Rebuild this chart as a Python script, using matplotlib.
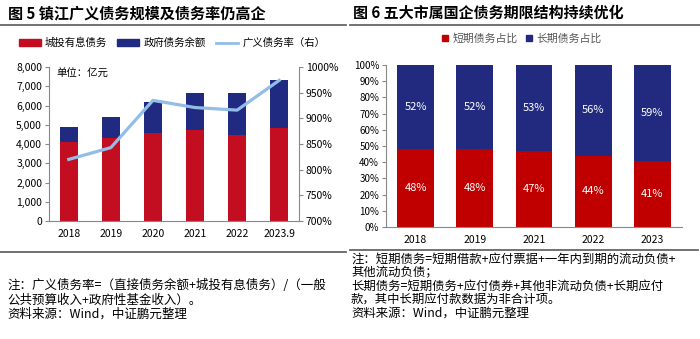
import matplotlib
import matplotlib.pyplot as plt
import numpy as np
from matplotlib.lines import Line2D
from matplotlib.patches import Patch
from matplotlib.ticker import FuncFormatter

matplotlib.use("Agg")

plt.rcParams["font.family"] = ["Noto Sans CJK SC", "DejaVu Sans"]

# 图5：镇江广义债务
years_zj = ["2018", "2019", "2020", "2021", "2022", "2023.9"]
chengtou_debt = [4120, 4300, 4570, 4730, 4470, 4830]
gov_debt = [750, 1090, 1590, 1930, 2190, 2470]
broad_ratio = [820, 843, 935, 921, 916, 974]

# 图6：五大市属国企债务期限结构
years_soe = ["2018", "2019", "2021", "2022", "2023"]
short_share = [48, 48, 47, 44, 41]
long_share = [52, 52, 53, 56, 59]

RED_L = "#C20E20"
NAVY_L = "#1F2A80"
LINE_C = "#93BDE8"
RED_R = "#C00000"
NAVY_R = "#212A7E"
GRAY = "#888888"

fig = plt.figure(figsize=(7, 3.39), dpi=100)


def fx(px):
    return px / 700


def fy(py):
    return 1 - py / 339


# titles, rules and notes
fig.text(fx(8), fy(13), "图 5 镇江广义债务规模及债务率仍高企", fontsize=10.9,
         fontweight="bold", va="center", ha="left")
fig.text(fx(353), fy(13), "图 6 五大市属国企债务期限结构持续优化", fontsize=10.8,
         fontweight="bold", va="center", ha="left")
for x0, x1 in [(0, 346), (350, 700)]:
    fig.add_artist(Line2D([fx(x0), fx(x1)], [fy(25), fy(25)], color="#666666", lw=1.3))
fig.add_artist(Line2D([fx(0), fx(346)], [fy(252), fy(252)], color="#666666", lw=1.3))
fig.add_artist(Line2D([fx(350), fx(698)], [fy(250), fy(250)], color="#666666", lw=1.3))

notes_left = ["注：广义债务率=（直接债务余额+城投有息债务）/（一般",
              "公共预算收入+政府性基金收入）。",
              "资料来源：Wind，中证鹏元整理"]
for i, s in enumerate(notes_left):
    fig.text(fx(7), fy(284 + 14.5 * i), s, fontsize=9.0, va="center_baseline",
             ha="left")

notes_right = ["注：短期债务=短期借款+应付票据+一年内到期的流动负债+",
               "其他流动负债；",
               "长期债务=短期债务+应付债券+其他非流动负债+长期应付",
               "款，其中长期应付款数据为非合计项。",
               "资料来源：Wind，中证鹏元整理"]
for i, s in enumerate(notes_right):
    fig.text(fx(351), fy(258 + 13.3 * i), s, fontsize=8.9, va="center_baseline",
             ha="left")

# left chart
ax = fig.add_axes([fx(49), fy(221), fx(299 - 49), fy(67) - fy(221)])
x = np.arange(len(years_zj))
ax.bar(x, chengtou_debt, width=0.42, color=RED_L, zorder=2)
ax.bar(x, gov_debt, width=0.42, bottom=chengtou_debt, color=NAVY_L, zorder=2)
ax.set_xlim(-0.47, 5.47)
ax.set_ylim(0, 8000)
ax.set_yticks(np.arange(0, 8001, 1000))
ax.yaxis.set_major_formatter(FuncFormatter(lambda v, p: f"{v:,.0f}"))
ax.set_xticks(x)
ax.set_xticklabels(years_zj)
ax.tick_params(axis="y", labelsize=7.5, length=3, color=GRAY, pad=2)
ax.tick_params(axis="x", labelsize=7.5, length=0, pad=6)
for side in ["top", "right"]:
    ax.spines[side].set_visible(False)
for side in ["left", "bottom"]:
    ax.spines[side].set_color(GRAY)
ax.text(0.03, 0.985, "单位：亿元", transform=ax.transAxes, fontsize=7.5,
        va="top", ha="left")

ax2 = ax.twinx()
ax2.plot(x, broad_ratio, color=LINE_C, lw=2.3, zorder=3)
ax2.set_ylim(700, 1000)
ax2.set_yticks(np.arange(700, 1001, 50))
ax2.yaxis.set_major_formatter(FuncFormatter(lambda v, p: f"{v:.0f}%"))
ax2.tick_params(axis="y", labelsize=7.5, length=3, color=GRAY, pad=2)
for side in ["top", "left", "bottom"]:
    ax2.spines[side].set_visible(False)
ax2.spines["right"].set_color(GRAY)

handles = [Patch(color=RED_L), Patch(color=NAVY_L), Line2D([], [], color=LINE_C, lw=2)]
fig.legend(handles, ["城投有息债务", "政府债务余额", "广义债务率（右）"],
           loc="center", bbox_to_anchor=(fx(172), fy(43)), ncol=3, frameon=False,
           fontsize=7.5, handlelength=2.1, handleheight=0.6, columnspacing=1.0,
           handletextpad=0.4)

# right chart
bx = fig.add_axes([fx(386), fy(227), fx(682 - 386), fy(65) - fy(227)])
xr = np.arange(len(years_soe))
bx.bar(xr, short_share, width=0.62, color=RED_R, zorder=2)
bx.bar(xr, long_share, width=0.62, bottom=short_share, color=NAVY_R, zorder=2)
for i in xr:
    bx.text(i, short_share[i] / 2, f"{short_share[i]}%", color="white",
            fontsize=8, ha="center", va="center")
    bx.text(i, short_share[i] + long_share[i] / 2, f"{long_share[i]}%",
            color="white", fontsize=8, ha="center", va="center")
bx.set_xlim(-0.5, 4.5)
bx.set_ylim(0, 100)
bx.set_yticks(np.arange(0, 101, 10))
bx.yaxis.set_major_formatter(FuncFormatter(lambda v, p: f"{v:.0f}%"))
bx.set_xticks(xr)
bx.set_xticklabels(years_soe)
bx.tick_params(axis="y", labelsize=7, length=3, color=GRAY, pad=2)
bx.tick_params(axis="x", labelsize=7.5, length=0, pad=6)
for side in ["top", "right"]:
    bx.spines[side].set_visible(False)
for side in ["left", "bottom"]:
    bx.spines[side].set_color(GRAY)

handles_r = [Line2D([], [], marker="s", ls="", color=RED_R, markersize=5),
             Line2D([], [], marker="s", ls="", color=NAVY_R, markersize=5)]
leg = fig.legend(handles_r, ["短期债务占比", "长期债务占比"], loc="center",
                 bbox_to_anchor=(fx(521), fy(38)), ncol=2, frameon=False,
                 fontsize=7.8, handlelength=0.8, handletextpad=0.3,
                 columnspacing=0.6)
for t in leg.get_texts():
    t.set_color("#555555")

plt.savefig("out.png", dpi=100)
plt.close()
